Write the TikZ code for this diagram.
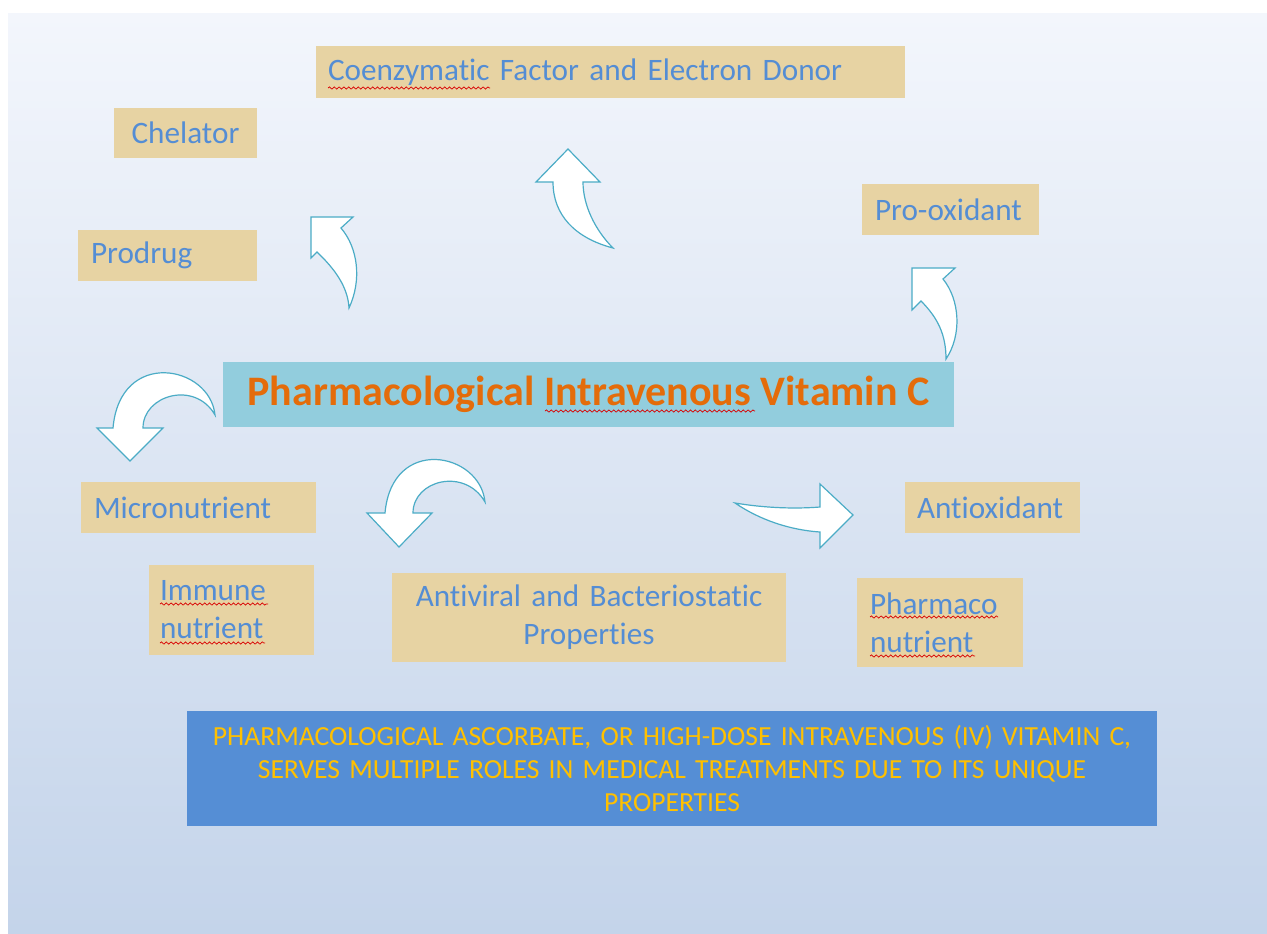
\documentclass[tikz,border=0pt]{standalone}
\usepackage{fontspec}
\setmainfont{Carlito}[Ligatures=NoCommon]
\usepackage{tikz}
\usetikzlibrary{decorations.pathmorphing}
\usepackage{color}

\definecolor{bgtop}{RGB}{243,246,252}
\definecolor{bgbot}{RGB}{196,212,234}
\definecolor{papyrus}{RGB}{231,211,163}
\definecolor{lblblue}{RGB}{84,141,212}
\definecolor{ttlfill}{RGB}{146,205,221}
\definecolor{ttlorange}{RGB}{228,108,10}
\definecolor{notefill}{RGB}{85,142,213}
\definecolor{noteyellow}{RGB}{255,192,0}
\definecolor{arrowline}{RGB}{75,172,198}

\newcommand{\lblfont}{\fontsize{15.6}{19}\selectfont}
\newcommand{\ttlfont}{\fontsize{21}{25}\selectfont\bfseries}
\newcommand{\notefont}{\fontsize{13.8}{16.5}\selectfont}

\tikzset{
  pbox/.style={fill=papyrus, text=lblblue, font=\lblfont, inner ysep=0pt, align=left},
  carrow/.style={fill=white, draw=arrowline, line width=0.6pt, line join=miter},
  spell/.style={draw=red!85!black, line width=0.35pt, decorate,
    decoration={snake, segment length=2.4pt, amplitude=0.55pt}}
}

\begin{document}
\begin{tikzpicture}[x=0.5pt,y=0.5pt,yscale=-1,xscale=1]
\useasboundingbox (0,0) rectangle (1267,933);

%Background
\fill [white] (0,0) rectangle (1267,933);
\fill [top color=bgtop, bottom color=bgbot] (8,13) rectangle (1267,933);

% Text Node
\node (coenz) [pbox, text width=282.5pt, inner xsep=6pt, minimum height=26pt] at (610.5,72) {Coenzymatic Factor and Electron Donor};
% Text Node
\node (chel) [pbox, align=center, minimum width=71.5pt, minimum height=25pt] at (185.5,133) {Chelator};
% Text Node
\node (prod) [pbox, text width=76.5pt, inner xsep=6.5pt, minimum height=25.5pt] at (167.5,255.5) {Prodrug};
% Text Node
\node (prox) [pbox, text width=75.5pt, inner xsep=6.5pt, minimum height=25.5pt] at (950.5,209.5) {Pro-oxidant};
% Text Node
\node (vitc) [fill=ttlfill, text=ttlorange, font=\ttlfont, inner sep=0pt, minimum width=365.5pt, minimum height=32.5pt] at (588.5,394.5) {Pharmacological Intravenous Vitamin C};
% Text Node
\node (micro) [pbox, text width=104.5pt, inner xsep=6.5pt, minimum height=25.5pt] at (198.5,507.5) {Micronutrient};
% Text Node
\node (immun) [pbox, text width=71.5pt, inner xsep=5.5pt, minimum height=45pt] at (231.5,610) {Immune\\nutrient};
% Text Node
\node (antiv) [pbox, align=center, text width=185pt, inner xsep=6pt, minimum height=44.5pt] at (589,617.5) {Antiviral and Bacteriostatic\\Properties};
% Text Node
\node (antiox) [pbox, text width=75.5pt, inner xsep=6pt, minimum height=25.5pt] at (992.5,507.5) {Antioxidant};
% Text Node
\node (pharm) [pbox, text width=70pt, inner xsep=6.5pt, minimum height=44.5pt] at (940,622.5) {Pharmaco\\nutrient};
% Text Node
\node (note) [fill=notefill, text=noteyellow, font=\notefont, align=center, text width=475pt, inner xsep=5pt, inner ysep=0pt, minimum height=57.5pt] at (672,768.5) {PHARMACOLOGICAL ASCORBATE, OR HIGH-DOSE INTRAVENOUS (IV) VITAMIN C,\\SERVES MULTIPLE ROLES IN MEDICAL TREATMENTS DUE TO ITS UNIQUE\\PROPERTIES};

%Spelling marks
\draw [spell] (328,88) -- (490,88);
\draw [spell] (545,411) -- (755,411);
\draw [spell] (160,604) -- (268,604);
\draw [spell] (160,643) -- (265,643);
\draw [spell] (870,617) -- (998,617);
\draw [spell] (870,656) -- (975,656);

%Shape: Curved Up Arrow [id:prod]
\draw [carrow] (349,308) .. controls (362,280) and (358,248) .. (341,228) -- (353,217) -- (311,217) -- (311,258) -- (317,252) .. controls (336,270) and (348,288) .. cycle;
%Shape: Curved Up Arrow [id:coenz]
\draw [carrow] (613,248) .. controls (575,238) and (553,215) .. (553,182) -- (536,182) -- (568,149) -- (600,182) -- (583,182) .. controls (583,205) and (595,230) .. cycle;
%Shape: Curved Up Arrow [id:prox]
\draw [carrow] (946,359) .. controls (962,335) and (960,300) .. (943,279) -- (955,268) -- (912,268) -- (912,310) -- (921,301) .. controls (938,318) and (946,335) .. cycle;
%Shape: Curved Down Arrow [id:micro]
\draw [carrow] (215,415) .. controls (210,365) and (120,348) .. (113,428) -- (97,428) -- (130,461) -- (163,428) -- (143,428) .. controls (143,395) and (195,380) .. cycle;
%Shape: Curved Down Arrow [id:antiv]
\draw [carrow] (485,502) .. controls (480,452) and (392,435) .. (385,513) -- (367,513) -- (399,547) -- (432,513) -- (413,513) .. controls (413,480) and (465,467) .. cycle;
%Shape: Curved Right Arrow [id:antiox]
\draw [carrow] (735,503) .. controls (765,508) and (795,509) .. (820,507) -- (820,484) -- (853,515) -- (820,548) -- (820,532) .. controls (790,530) and (760,520) .. cycle;
\end{tikzpicture}
\end{document}
